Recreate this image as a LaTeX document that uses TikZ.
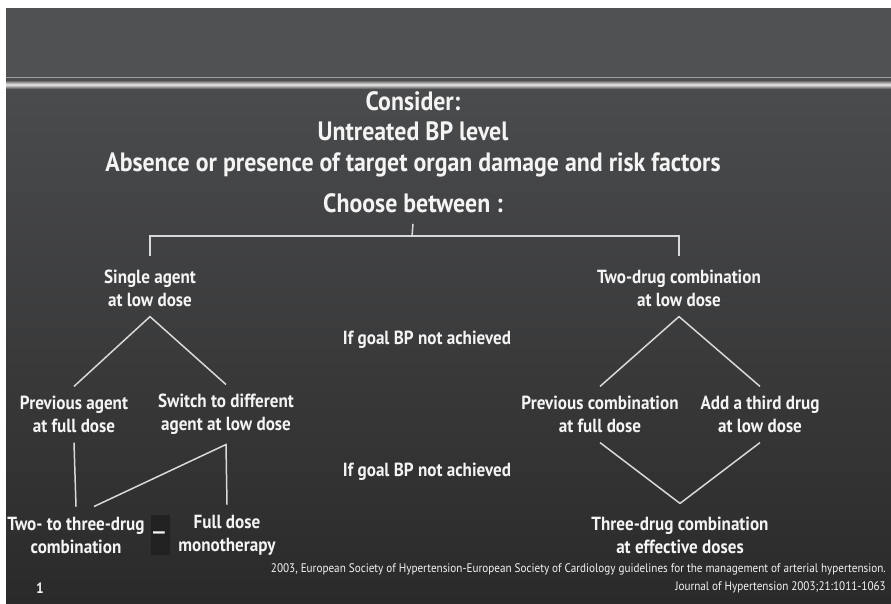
\documentclass[tikz,border=0pt]{standalone}
\usepackage{fontspec}
\setmainfont{PT Sans}[FakeStretch=0.9]
\usetikzlibrary{calc}

\definecolor{slidetop}{HTML}{505153}
\definecolor{slidehi}{HTML}{4B4C4E}
\definecolor{slidelo}{HTML}{2A2A2A}
\definecolor{inkline}{HTML}{D9D9D9}
\definecolor{inktext}{HTML}{F4F4F4}

\tikzset{
  head/.style={text=inktext, font=\fontsize{26.5}{30.5}\selectfont\bfseries, align=center, inner sep=4pt},
  choice/.style={text=inktext, font=\fontsize{19}{23}\selectfont\bfseries, align=center, inner sep=4pt},
  link/.style={draw=inkline, line width=1.5pt},
  note/.style={text=inktext, font=\fontsize{12.4}{18}\selectfont, align=right, inner sep=0pt},
}

\begin{document}
\begin{tikzpicture}[x=1pt,y=-1pt]
\useasboundingbox (0,0) rectangle (891,603);
% slide background
\fill[white] (0,0) rectangle (891,603);
\fill[slidetop] (6,8) rectangle (891,77);
\shade[top color=slidehi, bottom color=slidelo] (6,77) rectangle (891,603);
\draw[gray!75, line width=1pt] (6,77.5) -- (891,77.5);
\shade[top color=gray!60!black, bottom color=gray!60!black, middle color=white!92!black] (6,80) rectangle (891,89);
\fill[black!87] (151,515) rectangle (170,555);

% texts
\node[head] (consider) at (413,134) {Consider:\\Untreated BP level\\Absence or presence of target organ damage and risk factors};
\node[head] (choose) at (413,203) {Choose between :};
\node[choice] (single) at (150,288) {Single agent\\at low dose};
\node[choice] (twodrug) at (679,288) {Two-drug combination\\at low dose};
\node[choice] (goalA) at (427,340) {If goal BP not achieved};
\node[choice] (prevag) at (74,414) {Previous agent\\at full dose};
\node[choice] (switch) at (226,414) {Switch to different\\agent at low dose};
\node[choice] (prevcomb) at (600,414) {Previous combination\\at full dose};
\node[choice] (third) at (760,414) {Add a third drug\\at low dose};
\node[choice] (goalB) at (427,472) {If goal BP not achieved};
\node[choice] (twothree) at (76,535) {Two- to three-drug\\combination};
\node[choice] (fulldose) at (227,535) {Full dose\\monotherapy};
\node[choice] (threedrug) at (680,535) {Three-drug combination\\at effective doses};
\node[choice, font=\fontsize{32}{32}\selectfont] (gap) at (159,531) {\_};
\node[note, anchor=north east] (cite) at (886,563) {2003, European Society of Hypertension-European Society of Cardiology guidelines for the management of arterial hypertension.\\Journal of Hypertension 2003;21:1011-1063};
\node[text=inktext, font=\fontsize{15}{15}\selectfont\bfseries] (page) at (40,588) {1};

% choose between
\coordinate (fork) at (412,236);
\draw[link] ([yshift=-7pt]choose.south) -- (fork);
\draw[link] ([yshift=9pt]single.north) |- (fork) -| ([yshift=9pt]twodrug.north);

% first step
\draw[link] ([yshift=5pt]prevag.north) -- ([yshift=-6pt]single.south) -- ([yshift=5pt]switch.north);
\draw[link] ([yshift=5pt]prevcomb.north) -- ([yshift=-6pt]twodrug.south) -- ([yshift=5pt]third.north);

% second step
\draw[link] ([yshift=-6pt]prevag.south) -- ([yshift=6pt]twothree.north);
\draw[link] ([yshift=6pt]fulldose.north) -- ([yshift=-6pt]switch.south) -- ([xshift=18pt,yshift=6pt]twothree.north);
\draw[link] ([yshift=-6pt]prevcomb.south) -- ([yshift=9pt]threedrug.north) -- ([yshift=-6pt]third.south);
\end{tikzpicture}
\end{document}
